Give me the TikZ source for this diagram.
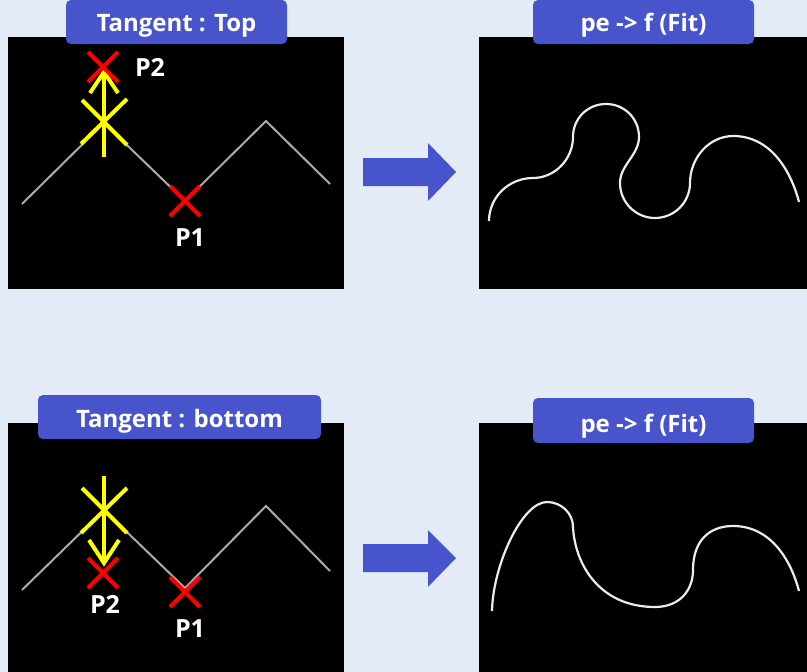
\documentclass[tikz,border=0pt]{standalone}
\usepackage{fontspec}
\setmainfont{Open Sans}
\definecolor{bgc}{HTML}{E3ECF6}
\definecolor{ttl}{HTML}{4854CC}
\definecolor{zig}{HTML}{ABABAB}
\definecolor{ylw}{HTML}{FFFF00}
\definecolor{rd}{HTML}{FF0000}
\begin{document}
\begin{tikzpicture}[x=1pt,y=-1pt,
  panel/.style={fill=black},
  titlebox/.style={fill=ttl,rounded corners=5pt},
  titletext/.style={text=white,font=\fontsize{24}{28}\selectfont\bfseries,anchor=base,inner sep=0pt},
  lbl/.style={text=white,font=\fontsize{25}{28}\selectfont\bfseries,anchor=base,inner sep=0pt},
  zigline/.style={draw=zig,line width=2pt},
  curveline/.style={draw=white!85!gray,line width=2.2pt},
  redx/.style={draw=rd,line width=4pt},
  ylwx/.style={draw=ylw,line width=4pt},
  blockarrow/.style={fill=ttl}
]
\useasboundingbox (0,0) rectangle (807,672);
\fill[bgc] (0,0) rectangle (807,672);

% ---------- panels ----------
\fill[panel] (8,37) rectangle (344,289);
\fill[panel] (479,37) rectangle (807,289);
\fill[panel] (8,423) rectangle (344,672);
\fill[panel] (479,423) rectangle (807,672);

% ---------- top-left ----------
\draw[zigline,line join=miter] (22,204) -- (104,123) -- (185,201) -- (266,121) -- (330,184);
\draw[ylwx] (81,144) -- (127,99);
\draw[ylwx] (82,100) -- (127,145);
\coordinate (tA) at (104,157);
\coordinate (tB) at (104,72);
\draw[ylwx] (tA) -- (tB);
\draw[ylwx,miter limit=10] (90,93) -- (tB) -- (118,93);
\draw[redx] (88,82) -- (118,52);
\draw[redx] (88,52) -- (118,82);
\draw[redx] (170,216) -- (200,186);
\draw[redx] (170,186) -- (200,216);
\node[lbl] (tP2) at (150,76) {P2};
\node[lbl] (tP1) at (190,246) {P1};

% ---------- bottom-left ----------
\draw[zigline,line join=miter] (22,590) -- (104,510) -- (185,588) -- (266,506) -- (330,571);
\draw[ylwx] (81,533) -- (127,488);
\draw[ylwx] (82,488) -- (127,533);
\coordinate (bA) at (104,476);
\coordinate (bB) at (104,563);
\draw[ylwx] (bA) -- (bB);
\draw[ylwx,miter limit=10] (89,540) -- (bB) -- (119,540);
\draw[redx] (88,588) -- (118,558);
\draw[redx] (88,558) -- (118,588);
\draw[redx] (170,607) -- (200,577);
\draw[redx] (170,577) -- (200,607);
\node[lbl] (bP2) at (105,613) {P2};
\node[lbl] (bP1) at (190,637) {P1};

% ---------- top-right curve ----------
\draw[curveline] (489,221)
  .. controls (489,197) and (509,178) .. (533,178)
  .. controls (555,178) and (573,159) .. (573,137)
  .. controls (573,118.5) and (587.5,104) .. (606,104)
  .. controls (624.5,104) and (639,118.5) .. (639,137)
  .. controls (639,155) and (620,165) .. (620,183)
  .. controls (620,202.3) and (635.7,218) .. (655,218)
  .. controls (674.3,218) and (690,202.3) .. (690,183)
  .. controls (690,157) and (710,136) .. (733,136)
  .. controls (773,136) and (792,175) .. (799,202);

% ---------- bottom-right curve ----------
\draw[curveline] (492,611)
  .. controls (493,565) and (522,502) .. (547,502)
  .. controls (561,502) and (573,513) .. (573,527)
  .. controls (575,565) and (600,607) .. (655,607)
  .. controls (680,607) and (693,590) .. (693,570)
  .. controls (693,540) and (710,526) .. (733,526)
  .. controls (773,526) and (792,564) .. (799,591);

% ---------- block arrows ----------
\fill[blockarrow] (363,158) -- (428,158) -- (428,143) -- (456,172) -- (428,201) -- (428,186) -- (363,186) -- cycle;
\fill[blockarrow] (363,544) -- (428,544) -- (428,530) -- (456,558) -- (428,587) -- (428,572) -- (363,572) -- cycle;

% ---------- titles ----------
\fill[titlebox] (66,0) rectangle (287,44);
\node[titletext] (t1) at (176.5,31) {Tangent : Top};
\fill[titlebox] (533,0) rectangle (754,44);
\node[titletext] (t2) at (643.5,31) {pe -> f (Fit)};
\fill[titlebox] (38,395) rectangle (321,439);
\node[titletext] (t3) at (179.5,427) {Tangent : bottom};
\fill[titlebox] (533,398) rectangle (754,443);
\node[titletext] (t4) at (643.5,432) {pe -> f (Fit)};
\end{tikzpicture}
\end{document}
